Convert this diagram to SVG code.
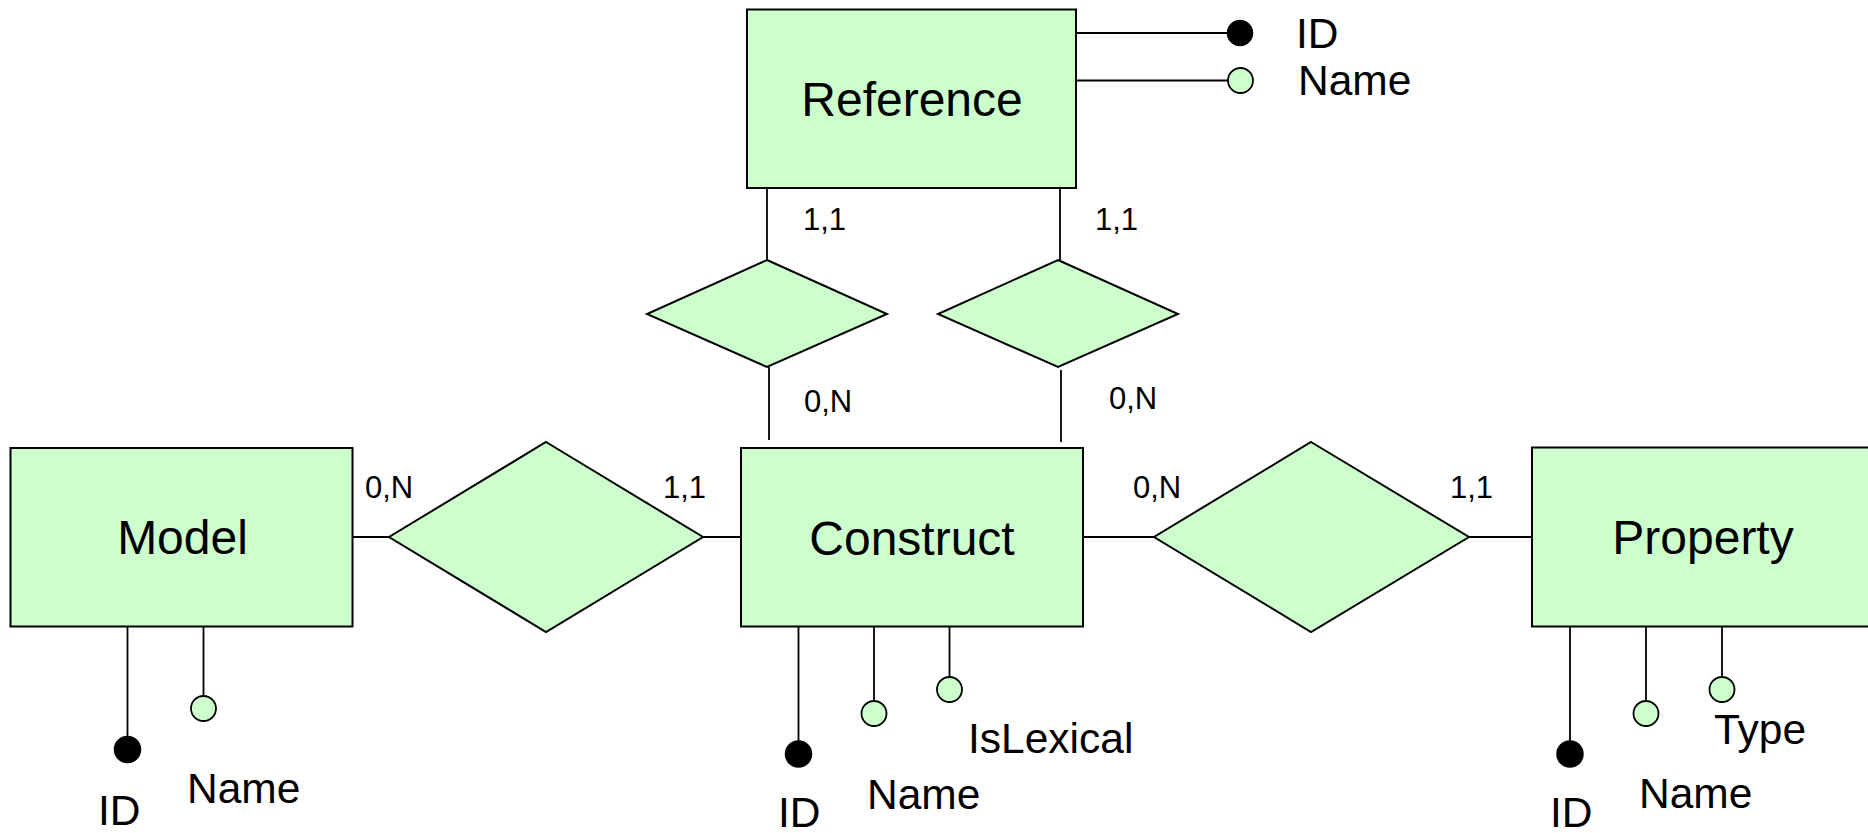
<svg xmlns="http://www.w3.org/2000/svg" width="1868" height="833" viewBox="0 0 1868 833">
<style>
.ent{fill:#CCFFCC;stroke:#000;stroke-width:2}
.rel{fill:#CCFFCC;stroke:#000;stroke-width:2}
.ln{stroke:#000;stroke-width:1.8;fill:none}
.key{fill:#000;stroke:#000;stroke-width:1.5}
.att{fill:#CCFFCC;stroke:#000;stroke-width:1.8}
.big{font-family:"Liberation Sans",Arial,sans-serif;font-size:48px;fill:#000;text-anchor:middle}
.lab{font-family:"Liberation Sans",Arial,sans-serif;font-size:42.5px;fill:#000}
.card{font-family:"Liberation Sans",Arial,sans-serif;font-size:31px;fill:#000}
</style>
<rect width="1868" height="833" fill="#fff"/>
<g id="connectors">
<line class="ln" x1="767" y1="188" x2="767" y2="260"/>
<line class="ln" x1="769" y1="367" x2="769" y2="440"/>
<line class="ln" x1="1060" y1="188" x2="1060" y2="260"/>
<line class="ln" x1="1061" y1="370" x2="1061" y2="442"/>
<line class="ln" x1="352" y1="537" x2="389" y2="537"/>
<line class="ln" x1="703" y1="537" x2="741" y2="537"/>
<line class="ln" x1="1083" y1="537" x2="1154" y2="537"/>
<line class="ln" x1="1469" y1="537" x2="1532" y2="537"/>
</g>
<g id="attr-lines">
<line class="ln" x1="1076" y1="33" x2="1228" y2="33"/>
<line class="ln" x1="1076" y1="80.5" x2="1228" y2="80.5"/>
<line class="ln" x1="127.5" y1="627" x2="127.5" y2="740"/>
<line class="ln" x1="203.5" y1="627" x2="203.5" y2="696"/>
<line class="ln" x1="798.5" y1="627" x2="798.5" y2="745"/>
<line class="ln" x1="874" y1="627" x2="874" y2="701"/>
<line class="ln" x1="949.5" y1="627" x2="949.5" y2="677"/>
<line class="ln" x1="1570" y1="627" x2="1570" y2="745"/>
<line class="ln" x1="1646" y1="627" x2="1646" y2="701"/>
<line class="ln" x1="1722" y1="627" x2="1722" y2="677"/>
</g>
<g id="reference">
<rect class="ent" x="747" y="9.5" width="329" height="178.5"/>
<text class="big" x="912" y="116">Reference</text>
<circle class="key" cx="1240" cy="33" r="12.5"/>
<circle class="att" cx="1240.5" cy="80.5" r="12.5"/>
<text class="lab" x="1296" y="48">ID</text>
<text class="lab" x="1298" y="95">Name</text>
</g>
<g id="rel-ref-1">
<polygon class="rel" points="767,260 887,314 767,367 647,314"/>
</g>
<g id="rel-ref-2">
<polygon class="rel" points="1058,260 1178,314 1058,367 938,314"/>
</g>
<g id="model">
<rect class="ent" x="10.5" y="448" width="342" height="178.5"/>
<text class="big" x="182.5" y="554">Model</text>
<circle class="key" cx="127.5" cy="749.5" r="13"/>
<circle class="att" cx="203.5" cy="708.5" r="12.5"/>
<text class="lab" x="98" y="825">ID</text>
<text class="lab" x="187" y="803">Name</text>
</g>
<g id="rel-model-construct">
<polygon class="rel" points="546,442 703,537 546,632 389,537"/>
</g>
<g id="construct">
<rect class="ent" x="741" y="448" width="342" height="178.5"/>
<text class="big" x="912" y="555">Construct</text>
<circle class="key" cx="798.5" cy="754" r="13"/>
<circle class="att" cx="874" cy="713.5" r="12.5"/>
<circle class="att" cx="949.5" cy="689.5" r="12.5"/>
<text class="lab" x="778" y="827">ID</text>
<text class="lab" x="867" y="809">Name</text>
<text class="lab" x="968" y="753">IsLexical</text>
</g>
<g id="rel-construct-property">
<polygon class="rel" points="1311,442 1469,537 1311,632 1154,537"/>
</g>
<g id="property">
<rect class="ent" x="1532" y="447.5" width="342" height="179"/>
<text class="big" x="1703" y="554">Property</text>
<circle class="key" cx="1570" cy="754" r="13"/>
<circle class="att" cx="1646" cy="713.5" r="12.5"/>
<circle class="att" cx="1722" cy="689.5" r="12.5"/>
<text class="lab" x="1550" y="827">ID</text>
<text class="lab" x="1639" y="808">Name</text>
<text class="lab" x="1714" y="744">Type</text>
</g>
<g id="cardinalities">
<text class="card" x="803" y="230">1,1</text>
<text class="card" x="1095" y="230">1,1</text>
<text class="card" x="804" y="412">0,N</text>
<text class="card" x="1109" y="409">0,N</text>
<text class="card" x="365" y="498">0,N</text>
<text class="card" x="663" y="498">1,1</text>
<text class="card" x="1133" y="498">0,N</text>
<text class="card" x="1450" y="498">1,1</text>
</g>
</svg>
